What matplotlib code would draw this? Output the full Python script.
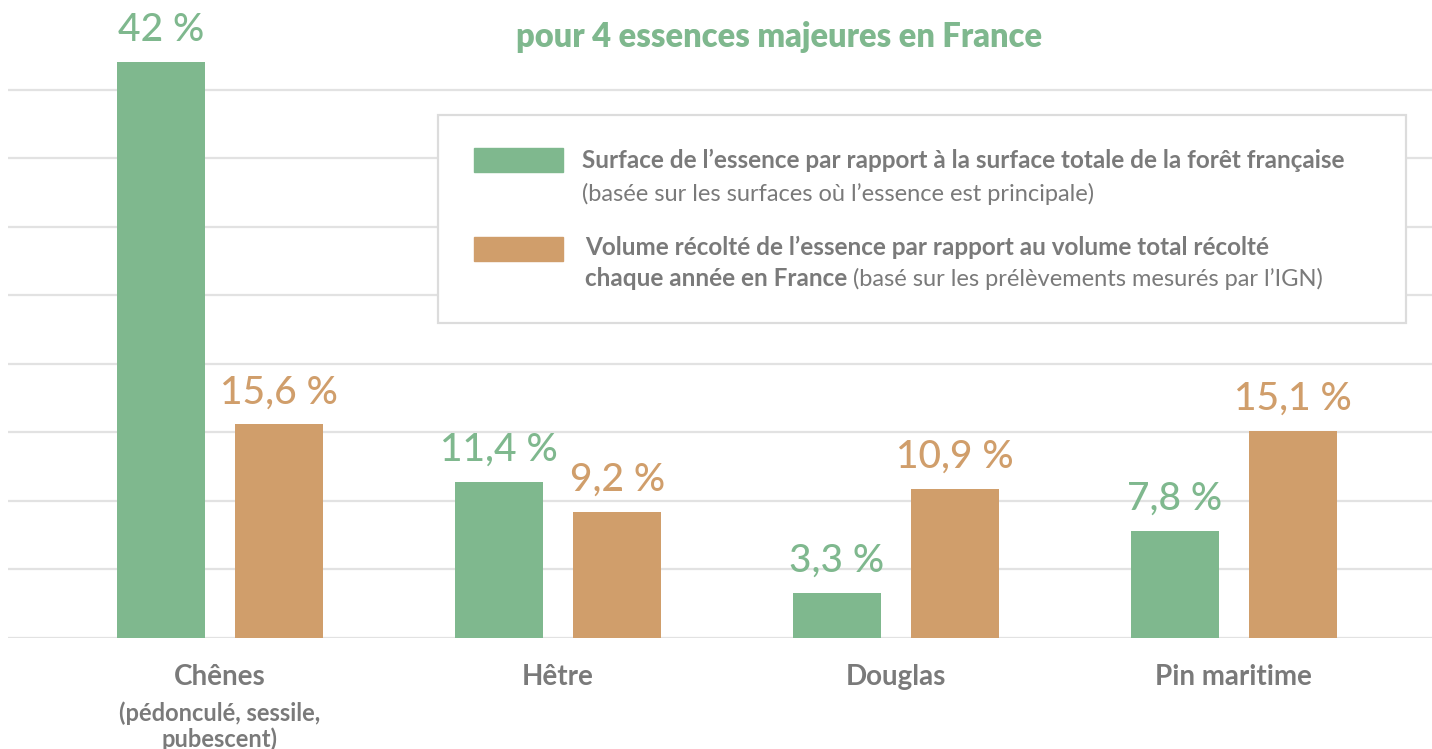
import numpy as np
import matplotlib
matplotlib.use("Agg")
import matplotlib.pyplot as plt
from matplotlib.patches import Rectangle

plt.rcParams['font.family'] = ['Lato', 'DejaVu Sans']

categories = ['Chênes', 'Hêtre', 'Douglas', 'Pin maritime']
subtitles = ['(pédonculé, sessile,\npubescent)', '', '', '']
surface = [42, 11.4, 3.3, 7.8]
volume = [15.6, 9.2, 10.9, 15.1]

green = '#7fb88e'
orange = '#d09e6b'
grey = '#7a7a7a'
W, H = 1432, 749


def fx(x):
    return x / W


def fy(y):
    return 1 - y / H


def fmt(v):
    s = ('%g' % v).replace('.', ',')
    return s + ' %'


fig = plt.figure(figsize=(W / 100, H / 100), dpi=100)
ax = fig.add_axes([fx(8), fy(638), 1 - fx(8), fy(21) - fy(638)])

x = np.arange(len(categories))
bw = 0.26
off = 0.175
b1 = ax.bar(x - off, surface, bw, color=green, zorder=3)
b2 = ax.bar(x + off, volume, bw, color=orange, zorder=3)

for bars, vals, c in [(b1, surface, green), (b2, volume, orange)]:
    for r, v in zip(bars, vals):
        ax.annotate(fmt(v), (r.get_x() + r.get_width() / 2, r.get_height()),
                    xytext=(0, 10), textcoords='offset points',
                    ha='center', va='bottom', color=c, fontsize=28, fontweight='medium')

ax.set_xlim(-0.627, 3.586)
ax.set_ylim(0, 45)
ax.set_yticks(np.arange(0, 41, 5))
ax.yaxis.grid(True, color='#e2e2e2', linewidth=1.6, zorder=0)
ax.tick_params(left=False, bottom=False, labelleft=False, labelbottom=False)
for s in ax.spines.values():
    s.set_visible(False)

for i, (c, sub) in enumerate(zip(categories, subtitles)):
    ax.annotate(c, (i, 0), xytext=(0, -28), textcoords='offset points',
                ha='center', va='center', color=grey, fontsize=20, fontweight='bold')
    if sub:
        ax.annotate(sub, (i, 0), xytext=(0, -46), textcoords='offset points',
                    ha='center', va='top', color=grey, fontsize=17, fontweight='bold',
                    linespacing=1.1)

fig.text(fx(779), fy(37), 'pour 4 essences majeures en France', ha='center', va='center',
         color=green, fontsize=23.5, fontweight='heavy')

# legend box
fig.patches.append(Rectangle((fx(438), fy(323)), fx(1406) - fx(438), fy(115) - fy(323),
                             transform=fig.transFigure, facecolor='white',
                             edgecolor='#dcdcdc', linewidth=1.6, zorder=5))
for y0, c in [(148, green), (237, orange)]:
    fig.patches.append(Rectangle((fx(474), fy(y0 + 24)), fx(89), fy(0) - fy(24),
                                 transform=fig.transFigure, color=c, zorder=6))

fb, fn = 17.5, 17
fig.text(fx(582), fy(168), 'Surface de l’essence par rapport à la surface totale de la forêt française',
         color=grey, fontsize=fb, fontweight='bold', va='baseline', zorder=7)
fig.text(fx(582), fy(201), '(basée sur les surfaces où l’essence est principale)',
         color=grey, fontsize=fn, va='baseline', zorder=7)
fig.text(fx(585), fy(255), 'Volume récolté de l’essence par rapport au volume total récolté',
         color=grey, fontsize=fb, fontweight='bold', va='baseline', zorder=7)
t4 = fig.text(fx(585), fy(286), 'chaque année en France',
              color=grey, fontsize=fb, fontweight='bold', va='baseline', zorder=7)
fig.canvas.draw()
ext = t4.get_window_extent()
fig.text(ext.x1 / W + fx(6), fy(286), '(basé sur les prélèvements mesurés par l’IGN)',
         color=grey, fontsize=fn, va='baseline', zorder=7)

fig.savefig('out.png', dpi=100)
